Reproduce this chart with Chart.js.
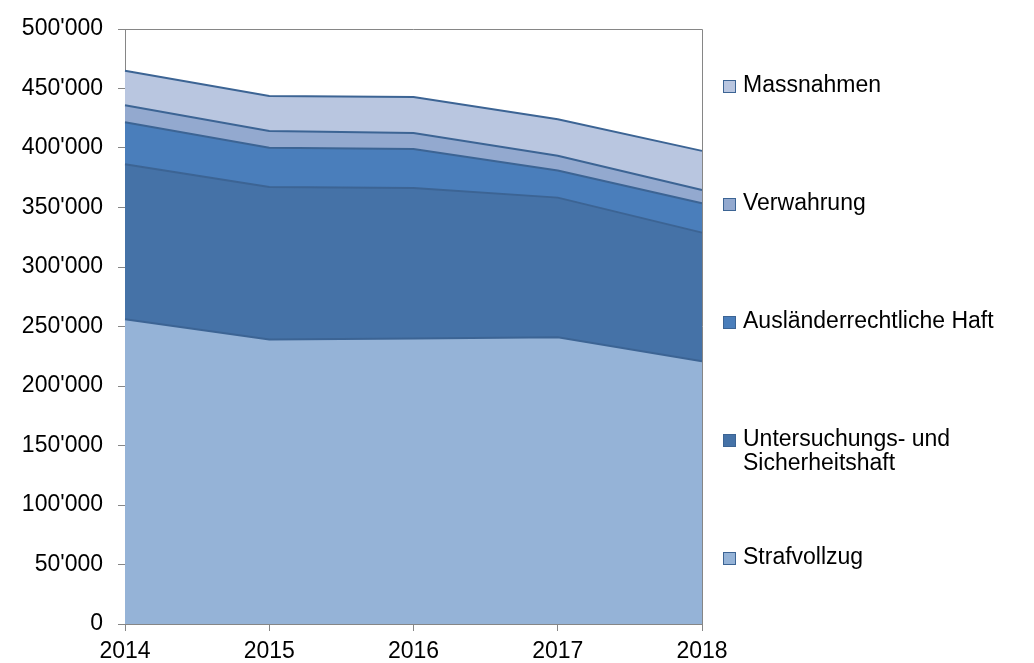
<!DOCTYPE html>
<html>
<head>
<meta charset="utf-8">
<script src="https://cdn.jsdelivr.net/npm/chart.js@4/dist/chart.umd.min.js"></script>
<style>
  html, body { margin: 0; padding: 0; background: #fff; }
  #wrap { width: 1034px; height: 663px; }
</style>
</head>
<body>
<div id="wrap"><canvas id="chart" width="1034" height="663"></canvas></div>
<script>
/* ---- data ---- */
const years = ['2014', '2015', '2016', '2017', '2018'];
const strafvollzug = [256000, 239000, 240000, 241000, 220800];
const untersuchung = [130400, 128200, 126300, 117300, 108100];
const auslaender = [35300, 33100, 32800, 22800, 24600];
const verwahrung = [14300, 14000, 13500, 12300, 11200];
const massnahmen = [29000, 29500, 30300, 30800, 32900];

const seriesNames = [
  'Strafvollzug',
  ['Untersuchungs- und', 'Sicherheitshaft'],
  'Ausländerrechtliche Haft',
  'Verwahrung',
  'Massnahmen'
];
const seriesColors = ['#95b3d7', '#4572a7', '#4a7ebb', '#93a9cf', '#b9c6e0'];
const lineColor = '#3c6494';

const FONT = "'Liberation Sans', Arial, sans-serif";
const FS = 23;

function fmt(v) {
  return String(v).replace(/\B(?=(\d{3})+(?!\d))/g, "'");
}

/* ---- frame + legend ---- */
const framePlugin = {
  id: 'frame',
  afterDraw(chart) {
    const { ctx, chartArea: a } = chart;
    ctx.save();
    ctx.strokeStyle = '#868686';
    ctx.lineWidth = 1;
    ctx.beginPath();
    ctx.moveTo(a.left, a.top + 0.5);
    ctx.lineTo(a.right + 0.5, a.top + 0.5);
    ctx.lineTo(a.right + 0.5, a.bottom);
    ctx.stroke();

    // legend, top to bottom = last dataset first
    ctx.font = FS + 'px ' + FONT;
    ctx.textBaseline = 'middle';
    const order = [4, 3, 2, 1, 0];
    order.forEach((di, i) => {
      const y = 86 + i * 118;
      const x = a.right + 21;
      ctx.fillStyle = seriesColors[di];
      ctx.fillRect(x, y - 6, 13, 13);
      ctx.strokeStyle = lineColor;
      ctx.lineWidth = 1;
      ctx.strokeRect(x + 0.5, y - 5.5, 12, 12);
      ctx.fillStyle = '#000';
      const name = seriesNames[di];
      const lines = Array.isArray(name) ? name : [name];
      lines.forEach((t, k) => ctx.fillText(t, x + 20, y + k * 24));
    });
    ctx.restore();
  }
};

const values = [strafvollzug, untersuchung, auslaender, verwahrung, massnahmen];

new Chart(document.getElementById('chart').getContext('2d'), {
  type: 'line',
  data: {
    labels: years,
    datasets: values.map((d, i) => ({
      label: Array.isArray(seriesNames[i]) ? seriesNames[i].join(' ') : seriesNames[i],
      data: d,
      backgroundColor: seriesColors[i],
      borderColor: lineColor,
      borderWidth: 2,
      pointRadius: 0,
      tension: 0,
      fill: i === 0 ? 'origin' : '-1'
    }))
  },
  options: {
    animation: false,
    responsive: false,
    layout: { padding: { top: 29, right: 332, bottom: 0, left: 0 } },
    plugins: {
      legend: { display: false },
      tooltip: { enabled: false }
    },
    scales: {
      x: {
        offset: false,
        afterFit: s => { s.height = 39; },
        grid: { drawOnChartArea: false, drawTicks: true, tickLength: 7, color: '#868686' },
        border: { color: '#868686' },
        ticks: { color: '#000', font: { family: FONT, size: FS }, padding: 7, maxRotation: 0 }
      },
      y: {
        stacked: true,
        min: 0,
        max: 500000,
        afterFit: s => { s.width = 125; },
        grid: { drawOnChartArea: false, drawTicks: true, tickLength: 7, color: '#868686' },
        border: { color: '#868686' },
        ticks: {
          stepSize: 50000,
          color: '#000',
          font: { family: FONT, size: FS },
          padding: 15,
          callback: v => fmt(v)
        }
      }
    }
  },
  plugins: [framePlugin]
});
</script>
</body>
</html>
